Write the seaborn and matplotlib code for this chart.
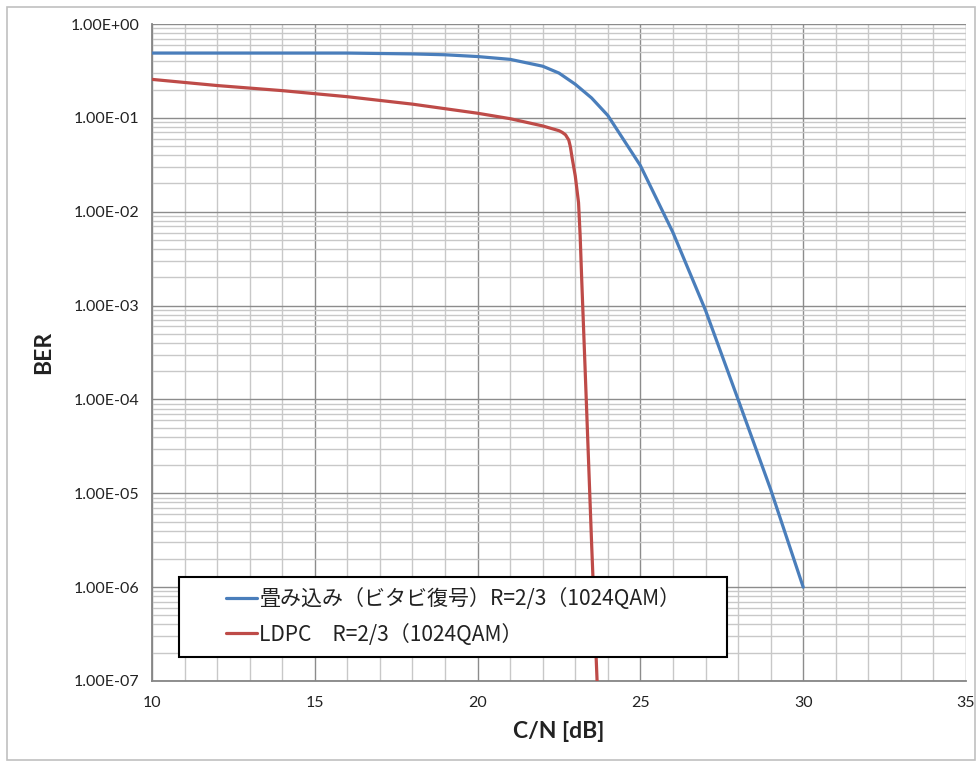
import numpy as np
import pandas as pd
import matplotlib
matplotlib.use("Agg")
import matplotlib.pyplot as plt
import matplotlib.ticker as mticker
from matplotlib.patches import Rectangle
import seaborn as sns

# ---- data ----
cn_viterbi = [10, 11, 12, 13, 14, 15, 16, 17, 18, 19, 20, 21, 22, 22.5, 23, 23.5, 24, 25, 26, 27, 28, 29, 30]
ber_viterbi = [0.49, 0.49, 0.49, 0.49, 0.49, 0.49, 0.49, 0.485, 0.48, 0.47, 0.45, 0.42, 0.355, 0.30,
               0.228, 0.163, 0.106, 0.031, 0.0060, 0.00089, 1.0e-4, 1.1e-5, 1.0e-6]

cn_ldpc = [10, 12, 14, 16, 18, 20, 21, 22, 22.5, 22.6, 22.7, 22.8, 22.85, 22.9, 23.0, 23.1,
           23.15, 23.2, 23.3, 23.4, 23.5, 23.6, 23.67]
ber_ldpc = [0.257, 0.221, 0.195, 0.168, 0.140, 0.112, 0.098, 0.082, 0.073, 0.070, 0.066, 0.058,
            0.049, 0.038, 0.024, 0.0125, 5.5e-3, 1.8e-3, 2.2e-4, 2.6e-5, 3.0e-6, 4.0e-7, 1.0e-7]

label_viterbi = "畳み込み（ビタビ復号）R=2/3（1024QAM）"
label_ldpc = "LDPC　R=2/3（1024QAM）"
x_ticks = [10, 15, 20, 25, 30, 35]
y_ticks = [1e-7, 1e-6, 1e-5, 1e-4, 1e-3, 1e-2, 1e-1, 1e0]
x_label = "C/N [dB]"
y_label = "BER"

BLUE = "#4a7ebb"
RED = "#be4b48"

sns.set_style("white")
plt.rcParams['font.family'] = ['Lato', 'Noto Sans CJK JP', 'DejaVu Sans']

fig = plt.figure(figsize=(9.8, 7.66), dpi=100)
ax = fig.add_axes([152/980, 1-681/766, (966-152)/980, (681-24)/766])

df_v = pd.DataFrame({"cn": cn_viterbi, "ber": ber_viterbi})
df_l = pd.DataFrame({"cn": cn_ldpc, "ber": ber_ldpc})
sns.lineplot(data=df_v, x="cn", y="ber", color=BLUE, lw=2.3, ax=ax, label=label_viterbi, zorder=3)
sns.lineplot(data=df_l, x="cn", y="ber", color=RED, lw=2.3, ax=ax, label=label_ldpc, zorder=3)

ax.set_yscale("log")
ax.set_xlim(10, 35)
ax.set_ylim(1e-7, 1e0)
ax.set_xticks(x_ticks)
ax.xaxis.set_minor_locator(mticker.MultipleLocator(1))
ax.set_yticks(y_ticks)
ax.yaxis.set_major_formatter(mticker.FuncFormatter(lambda v, p: f"{v:.2E}"))
ax.yaxis.set_minor_locator(mticker.LogLocator(base=10, subs=np.arange(2, 10)))
ax.yaxis.set_minor_formatter(mticker.NullFormatter())

ax.grid(True, which="major", color="#8c8c8c", lw=1.0, zorder=0)
ax.grid(True, which="minor", color="#c8c8c8", lw=1.0, zorder=0)
ax.set_axisbelow(True)

for s in ["top", "right"]:
    ax.spines[s].set_visible(False)
for s in ["left", "bottom"]:
    ax.spines[s].set_color("#868686")
    ax.spines[s].set_linewidth(1.3)

ax.tick_params(axis="both", which="major", direction="out", length=4, width=1,
               color="#868686", labelsize=11.5, labelcolor="#222222")
ax.tick_params(axis="y", which="major", pad=5)
ax.tick_params(axis="x", which="major", pad=7)
ax.tick_params(which="minor", length=0)

ax.set_xlabel(x_label, fontsize=16.5, fontweight="bold", labelpad=8, color="#222222")
ax.set_ylabel(y_label, fontsize=16.5, fontweight="bold", labelpad=12, color="#222222")

# legend box
bx0, bx1 = (179-152)/814, (727-152)/814
by0, by1 = (681-657)/657, (681-577)/657
ax.add_patch(Rectangle((bx0, by0), bx1-bx0, by1-by0, transform=ax.transAxes,
                       facecolor="white", edgecolor="black", lw=1.5, zorder=5))
leg = ax.legend(loc="center", bbox_to_anchor=((bx0+bx1)/2, (by0+by1)/2),
                frameon=False, handlelength=1.5, handletextpad=0.1, labelspacing=0.62,
                prop={"family": ["Noto Sans CJK JP"], "size": 15.1})
leg.set_zorder(6)
for t in leg.get_texts():
    t.set_color("#222222")

# outer chart border
fig.patches.append(Rectangle((7/980, 1-760/766), (975-7)/980, (760-7)/766,
                             transform=fig.transFigure, facecolor="none",
                             edgecolor="#c0c0c0", lw=1.2))

fig.savefig("out.png", dpi=100)
